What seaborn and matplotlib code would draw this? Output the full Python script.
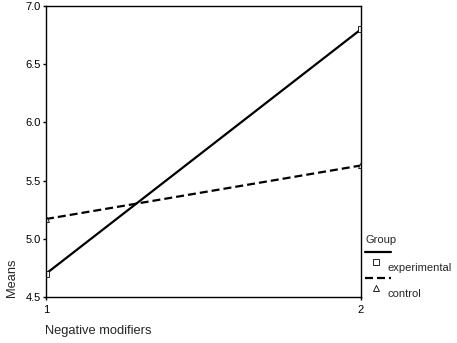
import pandas as pd
import seaborn as sns
import matplotlib.pyplot as plt
from matplotlib.lines import Line2D

sns.set_style("white")
plt.rcParams['font.family'] = ['Liberation Sans', 'DejaVu Sans']

levels = [1, 2]
experimental = [4.70, 6.80]
control = [5.17, 5.63]
groups = ["experimental", "control"]

data = pd.DataFrame({
    "Negative modifiers": levels * 2,
    "Means": experimental + control,
    "Group": [groups[0]] * 2 + [groups[1]] * 2,
})

W, H = 457, 343
fig = plt.figure(figsize=(W / 100, H / 100), dpi=100)
ax = fig.add_axes([46 / W, 46 / H, 315 / W, 291 / H])

dash = (3.6, 1.8)
sns.lineplot(data=data, x="Negative modifiers", y="Means", hue="Group",
             style="Group", palette=["black", "black"],
             dashes={"experimental": "", "control": dash},
             markers={"experimental": "s", "control": "^"},
             markersize=4.5, markerfacecolor="white", markeredgecolor="black",
             markeredgewidth=0.6, linewidth=1.6, legend=False, ax=ax)

ax.set_xlim(1, 2)
ax.set_ylim(4.5, 7.0)
ax.set_xticks(levels)
ax.set_xticklabels(["1", "2"])
ax.set_yticks([4.5, 5.0, 5.5, 6.0, 6.5, 7.0])
ax.set_yticklabels(["4.5", "5.0", "5.5", "6.0", "6.5", "7.0"])
ax.tick_params(axis="y", labelsize=8, length=2, width=1, direction="out",
               pad=1.5, colors="black", left=True)
ax.tick_params(axis="x", labelsize=8, length=2, width=1, direction="out",
               pad=4, colors="black", bottom=True)
for s in ax.spines.values():
    s.set_color("black")
    s.set_linewidth(1)

ax.set_xlabel("")
ax.set_ylabel("")
fig.text(45 / W, 1 - 331 / H, "Negative modifiers", fontsize=9.3,
         ha="left", va="center")
fig.text(12 / W, 1 - 297 / H, "Means", fontsize=9.3, rotation=90,
         ha="center", va="bottom")


# legend drawn by hand, laid out like the original (line, then marker + label below)
def px(x, y):
    return x / W, 1 - y / H


fig.text(*px(365, 240), "Group", fontsize=8, ha="left", va="center")
entries = [("experimental", "-", "s", 252), ("control", (0, dash), "^", 278)]
for label, ls, mk, y0 in entries:
    xa, ya = px(365, y0)
    xb, _ = px(391, y0)
    fig.add_artist(Line2D([xa, xb], [ya, ya], color="black", linewidth=1.6,
                          linestyle=ls, transform=fig.transFigure))
    xm, ym = px(376, y0 + 10)
    fig.add_artist(Line2D([xm], [ym], marker=mk, markersize=4,
                          markerfacecolor="white", markeredgecolor="black",
                          markeredgewidth=0.6, linestyle="none",
                          transform=fig.transFigure))
    fig.text(*px(388, y0 + 16), label, fontsize=8, ha="left", va="center")

fig.savefig("out.png", dpi=100)
